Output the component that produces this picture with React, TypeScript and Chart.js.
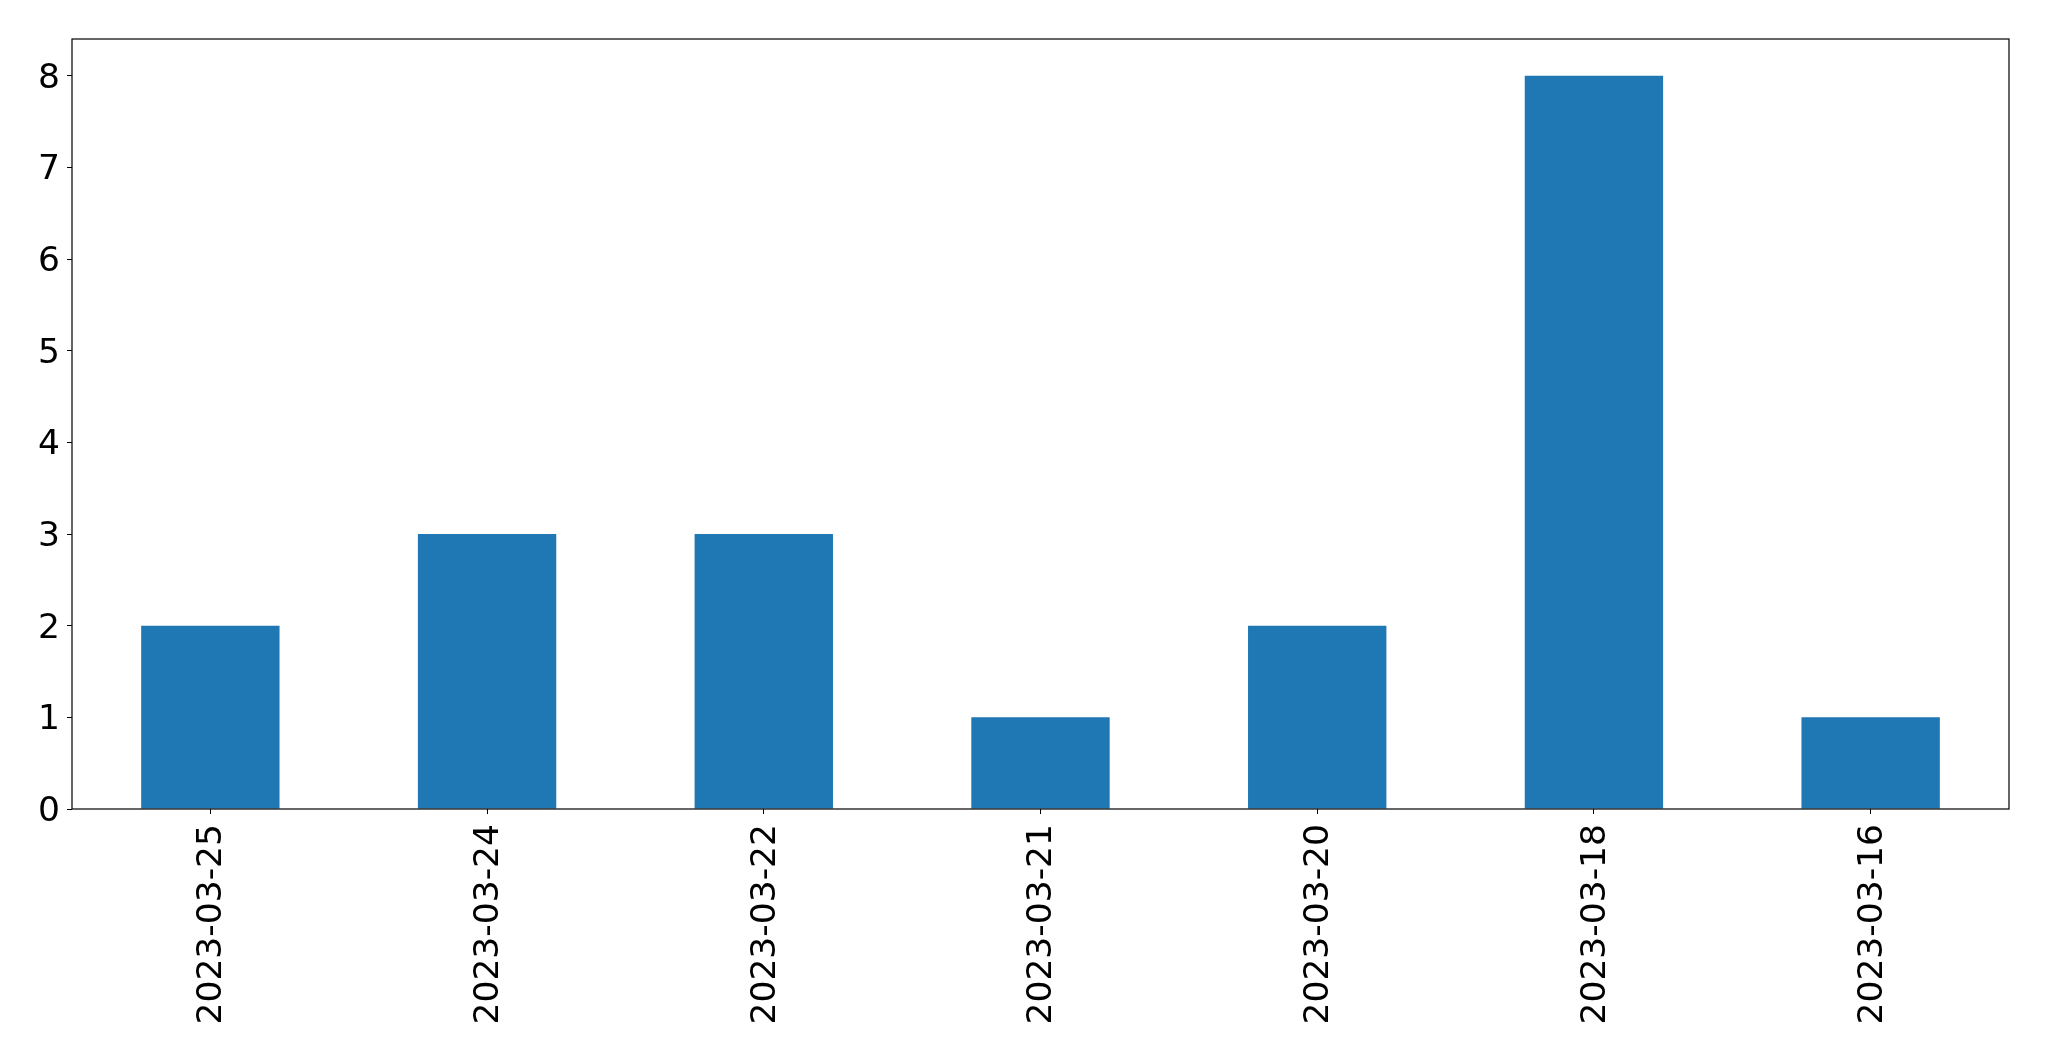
import React, { useEffect, useRef } from "react";
import { Chart, registerables } from "chart.js";

Chart.register(...registerables);

const categories = ["2023-03-25", "2023-03-24", "2023-03-22", "2023-03-21", "2023-03-20", "2023-03-18", "2023-03-16"];
const counts = [2, 3, 3, 1, 2, 8, 1];
const yTicks = [0, 1, 2, 3, 4, 5, 6, 7, 8];

const frame = {
  id: "frame",
  afterDatasetsDraw(chart: any) {
    const { ctx, chartArea } = chart;
    ctx.save();
    ctx.strokeStyle = "#000";
    ctx.lineWidth = 1.2;
    ctx.strokeRect(chartArea.left, chartArea.top, chartArea.right - chartArea.left, chartArea.bottom - chartArea.top);
    ctx.restore();
  },
};

export default function App() {
  const ref = useRef<HTMLCanvasElement | null>(null);
  useEffect(() => {
    if (!ref.current) return;
    const font = { family: "DejaVu Sans", size: 34.5 };
    const chart = new Chart(ref.current, {
      type: "bar",
      data: {
        labels: categories,
        datasets: [
          {
            data: counts,
            backgroundColor: "#1f77b4",
            borderWidth: 0,
            barPercentage: 0.5,
            categoryPercentage: 1,
          },
        ],
      },
      options: {
        animation: false,
        responsive: false,
        maintainAspectRatio: false,
        layout: { padding: { left: 0, top: 39, right: 40, bottom: 0 } },
        plugins: { legend: { display: false }, tooltip: { enabled: false } },
        scales: {
          x: {
            grid: { display: true, offset: false, drawOnChartArea: false, drawTicks: true, tickLength: 5, color: "#000", lineWidth: 1 },
            border: { display: false },
            ticks: { color: "#000", font, minRotation: 90, maxRotation: 90, padding: 10, autoSkip: false, labelOffset: 2 },
            afterFit(scale: any) {
              scale.height = 252;
            },
          },
          y: {
            min: 0,
            max: 8.4,
            grid: { display: true, drawOnChartArea: false, drawTicks: true, tickLength: 5, color: "#000", lineWidth: 1 },
            border: { display: false },
            afterBuildTicks(scale: any) {
              scale.ticks = yTicks.map((v) => ({ value: v }));
            },
            ticks: { color: "#000", font, padding: 7, labelOffset: 3 },
            afterFit(scale: any) {
              scale.width = 72;
            },
          },
        },
      },
      plugins: [frame],
    });
    return () => chart.destroy();
  }, []);
  return (
    <div style={{ position: "fixed", left: 0, top: 0, width: 2049, height: 1061, background: "#fff" }}>
      <canvas ref={ref} width={2049} height={1061} style={{ width: 2049, height: 1061 }} />
    </div>
  );
}
